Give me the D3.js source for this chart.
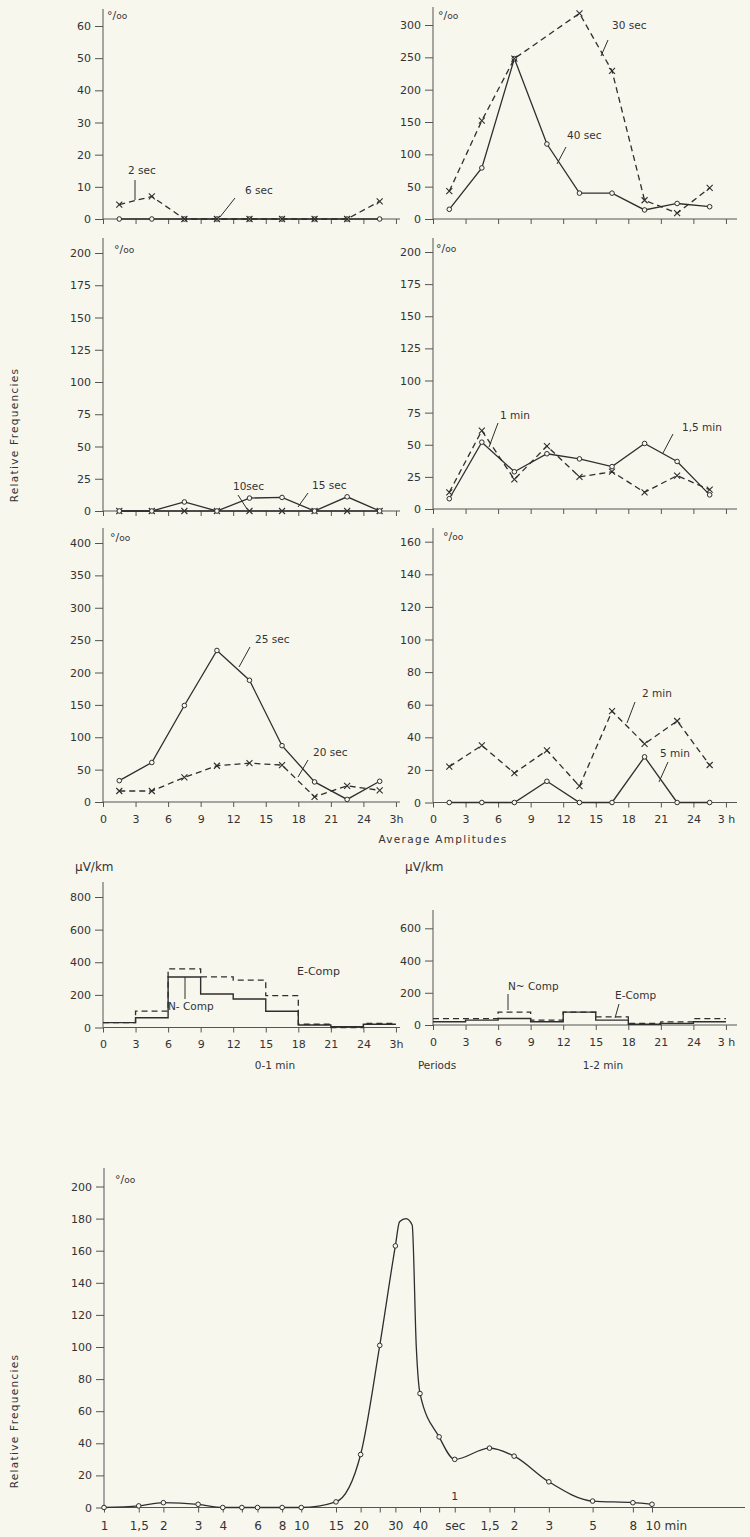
<!DOCTYPE html>
<html><head><meta charset="utf-8">
<script src="https://cdn.jsdelivr.net/npm/d3@7"></script>
<style>
body{margin:0;background:#f8f7ee;}
svg{display:block;}
text{font-family:"DejaVu Sans","Liberation Sans",sans-serif;fill:#333;}
</style></head><body>
<svg id="c" width="750" height="1537"></svg>
<script>
// ---------------- DATA ----------------
const hours = [1.5, 4.5, 7.5, 10.5, 13.5, 16.5, 19.5, 22.5, 25.5];
const hourTicks = [0, 3, 6, 9, 12, 15, 18, 21, 24, 27];
const hourLabelsL = ["0","3","6","9","12","15","18","21","24","3h"];
const hourLabelsR = ["0","3","6","9","12","15","18","21","24","3 h"];

// top-left
const sec2 = [4.5, 7, 0, 0, 0, 0, 0, 0, 5.5];
const sec6 = [0, 0, 0, 0, 0, 0, 0, 0, 0];
// top-right
const hours30 = [1.5, 4.5, 7.5, 13.5, 16.5, 19.5, 22.5, 25.5];
const sec30 = [43, 152, 248, 318, 229, 29, 9, 48];
const sec40 = [15, 79, 248, 116, 40, 40, 14, 24, 19];
// middle-left
const sec10 = [0, 0, 0, 0, 0, 0, 0, 0, 0];
const sec15 = [0, 0, 7, 0, 10, 10.5, 0, 11, 0];
// middle-right
const min1 = [13, 61, 23, 49, 25, 29, 13, 26, 15];
const min15 = [8, 52, 29, 43, 39, 33, 51, 37, 11];
// lower-left
const sec25 = [33, 61, 149, 234, 188, 87, 31, 4, 32];
const sec20 = [17, 17, 38, 56, 60, 57, 8, 25, 18];
// lower-right
const min2 = [22, 35, 18, 32, 10, 56, 36, 50, 23];
const min5 = [0, 0, 0, 13, 0, 0, 28, 0, 0];

// histograms (3-hour bins 0-3 ... 24-27), µV/km
const binStarts = [0, 3, 6, 9, 12, 15, 18, 21, 24, 27];
const histN_01 = [30, 60, 310, 205, 175, 100, 15, 5, 20];
const histE_01 = [30, 100, 360, 310, 290, 195, 20, 0, 25];
const histN_12 = [20, 30, 40, 20, 80, 30, 5, 10, 20];
const histE_12 = [40, 40, 80, 30, 80, 50, 10, 20, 40];

// bottom chart: periods in seconds
const periods = [1, 1.5, 2, 3, 4, 5, 6, 8, 10, 15, 20, 25, 30, 40, 50, 60, 90, 120, 180, 300, 480, 600];
const relFreq = [0, 1, 3, 2, 0, 0, 0, 0, 0, 3.5, 33, 101, 163, 71, 44, 30, 37, 32, 16, 4, 3, 2];
// extra points read off the drawn curve near its peak (no markers)
const peakPeriods = [31.5, 34, 36.5, 38.3];
const peakValues = [178, 180, 176, 100];
const periodTicks = [1, 1.5, 2, 3, 4, 5, 6, 8, 10, 15, 20, 25, 30, 40, 50, 60, 90, 120, 180, 300, 480, 600];
const periodLabels = ["1","1,5","2","3","4","","6","8","10","15","20","","30","40","","sec","1,5","2","3","5","8","10 min"];

// ---------------- DRAW ----------------
const BG = "#f8f7ee", INK = "#2e2e2e", AX = "#555";
const svg = d3.select("#c");
svg.append("rect").attr("width", 750).attr("height", 1537).attr("fill", BG);

function unitLabel(x, y) {
  const t = svg.append("text").attr("x", x).attr("y", y).attr("font-size", 11);
  t.append("tspan").text("°/");
  t.append("tspan").attr("font-size", 9).text("oo");
}

function panel(cfg) {
  const g = svg.append("g");
  const x = d3.scaleLinear().domain([0, 27]).range([cfg.ax, cfg.ax + 27 * 10.85]);
  const y = d3.scaleLinear().domain([0, cfg.max]).range([cfg.y0, cfg.yTop]);
  g.append("line").attr("x1", cfg.ax).attr("x2", cfg.ax).attr("y1", cfg.axisTop).attr("y2", cfg.y0)
    .attr("stroke", AX).attr("stroke-width", 1);
  g.append("line").attr("x1", cfg.ax).attr("x2", cfg.xEnd).attr("y1", cfg.y0).attr("y2", cfg.y0)
    .attr("stroke", AX).attr("stroke-width", 1);
  const ya = g.append("g").attr("transform", `translate(${cfg.ax},0)`)
    .call(d3.axisLeft(y).tickValues(d3.range(0, cfg.max + 0.1, cfg.step)).tickSize(8).tickPadding(4));
  ya.select(".domain").remove();
  ya.selectAll("line").attr("stroke", AX);
  ya.selectAll("text").attr("font-size", 11).attr("fill", "#333").attr("font-family", "DejaVu Sans");
  const xa = g.append("g").attr("transform", `translate(0,${cfg.y0})`)
    .call(d3.axisBottom(x).tickValues(hourTicks).tickSize(5).tickPadding(8)
      .tickFormat((d, i) => cfg.xLabels ? cfg.xLabels[i] : ""));
  xa.select(".domain").remove();
  xa.selectAll("line").attr("stroke", AX);
  xa.selectAll("text").attr("font-size", 11).attr("fill", "#333").attr("font-family", "DejaVu Sans");
  return {g, x, y};
}

function series(p, hrs, vals, dashed, marker) {
  const pts = hrs.map((h, i) => [p.x(h), p.y(vals[i])]);
  p.g.append("path").attr("d", d3.line()(pts)).attr("fill", "none").attr("stroke", INK)
    .attr("stroke-width", 1.3).attr("stroke-dasharray", dashed ? "6,4" : null);
  if (marker === "o") {
    p.g.selectAll(null).data(pts).join("circle").attr("cx", d => d[0]).attr("cy", d => d[1]).attr("r", 2.3)
      .attr("fill", BG).attr("stroke", INK).attr("stroke-width", 1);
  } else if (marker === "x") {
    p.g.selectAll(null).data(pts).join("path")
      .attr("d", d => `M${d[0]-3},${d[1]-3}L${d[0]+3},${d[1]+3}M${d[0]-3},${d[1]+3}L${d[0]+3},${d[1]-3}`)
      .attr("stroke", INK).attr("stroke-width", 1.1);
  }
}

function note(text, tx, ty, l, size) {
  svg.append("text").attr("x", tx).attr("y", ty).attr("font-size", size || 10.5).text(text);
  if (l) svg.append("line").attr("x1", l[0]).attr("y1", l[1]).attr("x2", l[2]).attr("y2", l[3])
    .attr("stroke", INK).attr("stroke-width", 1);
}

// Top-left
const pTL = panel({ax: 103, xEnd: 400, y0: 219, yTop: 26, max: 60, step: 10, axisTop: 9});
series(pTL, hours, sec6, false, "o");
series(pTL, hours, sec2, true, "x");
unitLabel(107, 19);
note("2 sec", 128, 174, [135, 180, 135, 200]);
note("6 sec", 245, 194, [235, 198, 220, 217]);

// Top-right
const pTR = panel({ax: 433, xEnd: 737, y0: 219, yTop: 25, max: 300, step: 50, axisTop: 7});
series(pTR, hours, sec40, false, "o");
series(pTR, hours30, sec30, true, "x");
unitLabel(438, 19);
note("30 sec", 612, 29, [608, 40, 601, 56]);
note("40 sec", 567, 139, [566, 147, 557, 164]);

// Middle-left
const pML = panel({ax: 103, xEnd: 400, y0: 511, yTop: 253, max: 200, step: 25, axisTop: 238});
series(pML, hours, sec10, false, "x");
series(pML, hours, sec15, false, "o");
unitLabel(114, 253);
note("10sec", 233, 490, [238, 495, 247, 509]);
note("15 sec", 312, 489, [308, 493, 298, 507]);

// Middle-right
const pMR = panel({ax: 433, xEnd: 737, y0: 509, yTop: 252, max: 200, step: 25, axisTop: 238});
series(pMR, hours, min15, false, "o");
series(pMR, hours, min1, true, "x");
unitLabel(436, 252);
note("1 min", 500, 419, [498, 423, 489, 447]);
note("1,5 min", 682, 431, [673, 434, 663, 453]);

// Lower-left
const pLL = panel({ax: 103, xEnd: 400, y0: 802, yTop: 543, max: 400, step: 50, axisTop: 528, xLabels: hourLabelsL});
series(pLL, hours, sec25, false, "o");
series(pLL, hours, sec20, true, "x");
unitLabel(110, 541);
note("25 sec", 255, 643, [250, 647, 239, 667]);
note("20 sec", 313, 756, [308, 760, 298, 777]);

// Lower-right
const pLR = panel({ax: 433, xEnd: 737, y0: 802.5, yTop: 541.7, max: 160, step: 20, axisTop: 528, xLabels: hourLabelsR});
series(pLR, hours, min5, false, "o");
series(pLR, hours, min2, true, "x");
unitLabel(443, 540);
note("2 min", 642, 697, [635, 702, 627, 723]);
note("5 min", 660, 757, [668, 762, 659, 782]);

svg.append("text").attr("transform", "translate(18,435) rotate(-90)").attr("text-anchor", "middle")
  .attr("font-size", 10.5).attr("letter-spacing", 1.3).text("Relative Frequencies");
svg.append("text").attr("x", 443).attr("y", 843).attr("text-anchor", "middle")
  .attr("font-size", 10.5).attr("letter-spacing", 1.3).text("Average Amplitudes");

// Histograms
function hist(cfg, nVals, eVals) {
  const p = panel(cfg);
  const stepLine = d3.line().curve(d3.curveStepAfter);
  const ptsN = binStarts.map((b, i) => [p.x(b), p.y(nVals[Math.min(i, nVals.length - 1)])]);
  const ptsE = binStarts.map((b, i) => [p.x(b), p.y(eVals[Math.min(i, eVals.length - 1)])]);
  p.g.append("path").attr("d", stepLine(ptsE)).attr("fill", "none").attr("stroke", INK)
    .attr("stroke-width", 1.3).attr("stroke-dasharray", "6,4");
  p.g.append("path").attr("d", stepLine(ptsN)).attr("fill", "none").attr("stroke", INK)
    .attr("stroke-width", 1.4);
  return p;
}
hist({ax: 103, xEnd: 400, y0: 1027.5, yTop: 897, max: 800, step: 200, axisTop: 882, xLabels: hourLabelsL}, histN_01, histE_01);
hist({ax: 433, xEnd: 737, y0: 1025, yTop: 928.3, max: 600, step: 200, axisTop: 910, xLabels: hourLabelsR}, histN_12, histE_12);
svg.append("text").attr("x", 75).attr("y", 871).attr("font-size", 12).text("µV/km");
svg.append("text").attr("x", 405).attr("y", 871).attr("font-size", 12).text("µV/km");
note("E-Comp", 297, 975, null, 11);
note("N- Comp", 168, 1010, [185, 977, 185, 999], 10.5);
note("N~ Comp", 508, 990, [508, 994, 508, 1010], 10.5);
note("E-Comp", 615, 999, [619, 1004, 615, 1018], 10.5);
svg.append("text").attr("x", 275).attr("y", 1069).attr("text-anchor", "middle").attr("font-size", 10.5).text("0-1 min");
svg.append("text").attr("x", 437).attr("y", 1069).attr("text-anchor", "middle").attr("font-size", 10.5).text("Periods");
svg.append("text").attr("x", 603).attr("y", 1069).attr("text-anchor", "middle").attr("font-size", 10.5).text("1-2 min");

// Bottom chart
(function () {
  const ax = 104, y0 = 1507.5, xEnd = 745;
  const g = svg.append("g");
  const x = d3.scaleLog().domain([1, 600]).range([104, 652]);
  const y = d3.scaleLinear().domain([0, 200]).range([y0, 1186.5]);
  g.append("line").attr("x1", ax).attr("x2", ax).attr("y1", 1168).attr("y2", y0).attr("stroke", AX);
  g.append("line").attr("x1", ax).attr("x2", xEnd).attr("y1", y0).attr("y2", y0).attr("stroke", AX);
  const ya = g.append("g").attr("transform", `translate(${ax},0)`)
    .call(d3.axisLeft(y).tickValues(d3.range(0, 201, 20)).tickSize(8).tickPadding(4));
  ya.select(".domain").remove();
  ya.selectAll("line").attr("stroke", AX);
  ya.selectAll("text").attr("font-size", 11).attr("fill", "#333").attr("font-family", "DejaVu Sans");
  const xa = g.append("g").attr("transform", `translate(0,${y0})`)
    .call(d3.axisBottom(x).tickValues(periodTicks).tickSize(5).tickPadding(9).tickFormat((d, i) => periodLabels[i]));
  xa.select(".domain").remove();
  xa.selectAll("line").attr("stroke", AX);
  xa.selectAll("text").attr("font-size", 12).attr("fill", "#333").attr("font-family", "DejaVu Sans");
  xa.selectAll("text").filter((d, i) => i === periodTicks.length - 1).attr("text-anchor", "start").attr("dx", -7);
  const curvePts = periods.map((p, i) => [p, relFreq[i]])
    .concat(peakPeriods.map((p, i) => [p, peakValues[i]]))
    .sort((a, b) => a[0] - b[0]);
  g.append("path").attr("d", d3.line().x(d => x(d[0])).y(d => y(d[1])).curve(d3.curveMonotoneX)(curvePts))
    .attr("fill", "none").attr("stroke", INK).attr("stroke-width", 1.3);
  g.selectAll(null).data(periods.map((p, i) => [p, relFreq[i]])).join("circle")
    .attr("cx", d => x(d[0])).attr("cy", d => y(d[1])).attr("r", 2.3)
    .attr("fill", BG).attr("stroke", INK).attr("stroke-width", 1);
  svg.append("text").attr("x", x(60)).attr("y", y0 - 8).attr("text-anchor", "middle").attr("font-size", 11).text("1");
  unitLabel(115, 1183);
  svg.append("text").attr("transform", "translate(18,1421) rotate(-90)").attr("text-anchor", "middle")
    .attr("font-size", 10.5).attr("letter-spacing", 1.3).text("Relative Frequencies");
})();
</script>
</body></html>
